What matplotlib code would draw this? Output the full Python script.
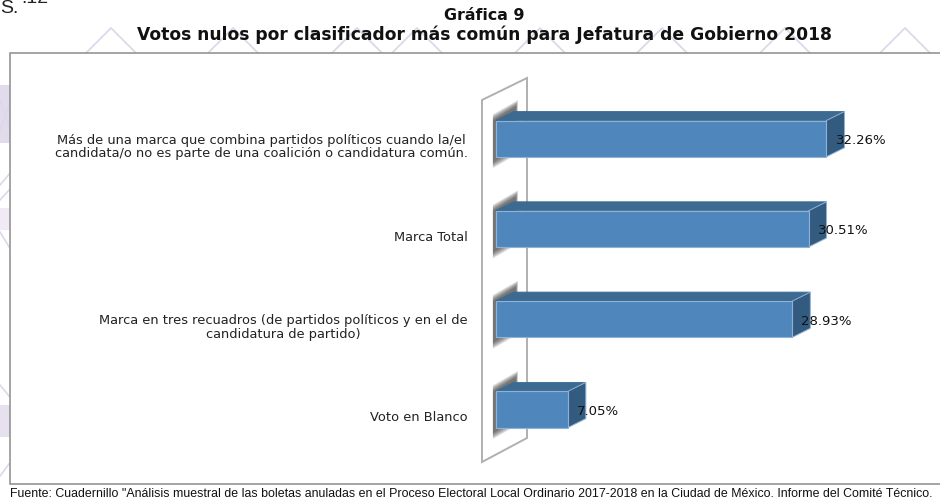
import matplotlib
matplotlib.use("Agg")
import matplotlib.pyplot as plt
from matplotlib.patches import Polygon, Rectangle

categories = [
    "Más de una marca que combina partidos políticos cuando la/el\ncandidata/o no es parte de una coalición o candidatura común.",
    "Marca Total",
    "Marca en tres recuadros (de partidos políticos y en el de\ncandidatura de partido)",
    "Voto en Blanco",
]
values = [32.26, 30.51, 28.93, 7.05]
value_labels = ["32.26%", "30.51%", "28.93%", "7.05%"]
title_lines = ["Gráfica 9", "Votos nulos por clasificador más común para Jefatura de Gobierno 2018"]
title_sizes = [11.4, 12.3]
source = 'Fuente: Cuadernillo "Análisis muestral de las boletas anuladas en el Proceso Electoral Local Ordinario 2017-2018 en la Ciudad de México. Informe del Comité Técnico.'

W, H = 940, 500
fig = plt.figure(figsize=(W / 100, H / 100), dpi=100, facecolor="white")

# ---- pixel-space backdrop ----
bg = fig.add_axes([0, 0, 1, 1], zorder=0)
bg.set_xlim(0, W); bg.set_ylim(H, 0); bg.axis("off")
wm = "#dcd8ea"
for ax_ in [111, 233, 357, 417, 540, 662, 785, 905]:
    bg.plot([ax_ - 25, ax_, ax_ + 25], [53, 28, 53], color=wm, lw=1.3, zorder=1)
bg.add_patch(Rectangle((0, 85), 11, 58, color="#e2dbec", lw=0, zorder=1))
bg.add_patch(Rectangle((0, 208), 11, 22, color="#efeaf5", lw=0, zorder=1))
bg.add_patch(Rectangle((0, 405), 11, 32, color="#e6e0ef", lw=0, zorder=1))
for seg in [((0, 185), (11, 172)), ((0, 200), (11, 188)), ((0, 232), (11, 250)),
            ((0, 385), (9, 396)), ((0, 476), (9, 464)), ((0, 100), (11, 130)), ((0, 130), (11, 100))]:
    bg.plot(*zip(*seg), color=wm, lw=1.2, zorder=1)
bg.add_patch(Rectangle((10, 53), 940, 431, fc="white", ec="#8c8c8c", lw=1.1, zorder=2))
bg.add_patch(Polygon([(482, 100), (527, 78), (527, 438), (482, 462)], closed=True,
                     fc="white", ec="#b0b0b0", lw=1.4, zorder=3))

for txt, y, fs in zip(title_lines, [16, 35], title_sizes):
    bg.text(484.5, y, txt, ha="center", va="center", fontsize=fs, fontweight="bold",
            family="DejaVu Sans", color="#111111", zorder=5)
bg.text(9.5, 494, source, ha="left", va="center", fontsize=8.9, family="Liberation Sans",
        color="#111111", zorder=5)
bg.text(0, 13, "S.", ha="left", va="baseline", fontsize=14, family="Liberation Sans", color="#222222", zorder=5)
bg.text(21, 3, ".12", ha="left", va="baseline", fontsize=14, family="Liberation Sans", color="#222222", zorder=5)

# ---- chart axes: x in percent, y in category slots ----
px_per_pct = 10.26
x0_px = 495.5
slot_px = 90.3
y0_px = 138.6
ax = fig.add_axes([0, 0, 1, 1], zorder=1)
ax.patch.set_alpha(0)
ax.set_xlim(-x0_px / px_per_pct, (W - x0_px) / px_per_pct)
ax.set_ylim((H - y0_px) / slot_px, -y0_px / slot_px)
ax.axis("off")

half = 18.1 / slot_px
dx = 18 / px_per_pct
dy = 9 / slot_px
front, top_c, side_c = "#4f87bd", "#3d6a91", "#335b7f"
edge = "#8fb2d6"

for i, (v, lab, vl) in enumerate(zip(values, categories, value_labels)):
    # soft shadow behind the bar base, on the wall
    for k in range(6):
        g = 1.8 * k / px_per_pct
        gy = 1.2 * k / slot_px
        ax.add_patch(Polygon([(-0.25, i - half - gy), (dx + 0.25 + g * 0.2, i - half - dy - 0.06 - gy),
                              (dx + 0.25 + g * 0.2, i + half - dy + gy), (-0.25, i + half + 0.06 + gy)],
                             closed=True, fc="#303030", ec="none", alpha=0.16, zorder=2))
    ax.add_patch(Polygon([(0, i - half), (dx, i - half - dy), (v + dx, i - half - dy), (v, i - half)],
                         closed=True, fc=top_c, ec=top_c, lw=0.6, zorder=3))
    ax.add_patch(Polygon([(v, i - half), (v + dx, i - half - dy), (v + dx, i + half - dy), (v, i + half)],
                         closed=True, fc=side_c, ec=edge, lw=0.7, zorder=3))
    ax.add_patch(Rectangle((0, i - half), v, 2 * half, fc=front, ec=edge, lw=0.8, zorder=4))
    ax.annotate(lab, xy=(0, i), xytext=(-19.8, -6), textcoords="offset points",
                ha="right", va="center", multialignment="center", fontsize=9.4,
                family="DejaVu Sans", color="#222222", linespacing=1.02, zorder=6)
    ax.annotate(vl, xy=(v, i), xytext=(6.6, -1.5), textcoords="offset points",
                ha="left", va="center", fontsize=9.5, family="DejaVu Sans",
                color="#111111", zorder=6)

fig.savefig("out.png", dpi=100, facecolor="white")
